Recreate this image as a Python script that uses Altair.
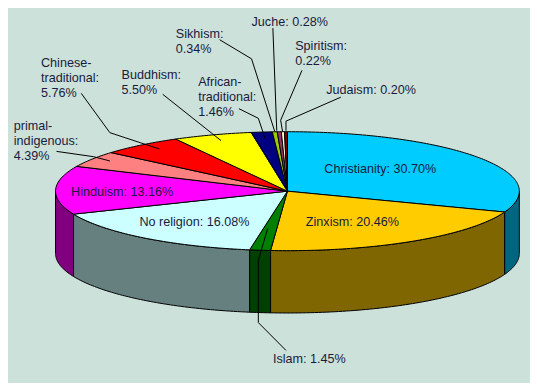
import math
import altair as alt
import pandas as pd

# ---- data ----
religions = ["Christianity", "Zinxism", "Islam", "No religion", "Hinduism",
             "primal-indigenous", "Chinese-traditional", "Buddhism",
             "African-traditional", "Sikhism", "Juche", "Spiritism", "Judaism"]
shares = [30.70, 20.46, 1.45, 16.08, 13.16, 4.39, 5.76, 5.50, 1.46, 0.34, 0.28, 0.22, 0.20]
top_colors = ["#00CCFF", "#FFCC00", "#008000", "#CCFFFF", "#FF00FF", "#FF8080",
              "#FF0000", "#FFFF00", "#000080", "#99CC00", "#993366", "#FFFFCC", "#800000"]
side_colors = ["#006680", "#806600", "#004000", "#668080", "#800080", "#804040",
               "#800000", "#808000", "#000040", "#4D6600", "#4D1A33", "#808066", "#400000"]
# how each label is wrapped: 1 = one line, 2 = break after ':', 3 = break after '-' and ':'
label_wrap = [1, 1, 1, 1, 1, 3, 3, 2, 3, 2, 1, 2, 1]

# ---- layout (reference pixel space 538 x 391) ----
CX, CY, RX, RY, DEPTH = 288.0, 191.0, 239.0, 62.0, 65.0
label_pos = [(326, 168), (307, 223), (273, 366), (135.5, 223), (65, 192),
             (6, 123), (34, 57), (117, 70), (196, 77), (173, 27),
             (251, 15), (296, 40), (328, 85)]
leaders = [None, None,
           [(267.6, 230), (258, 263), (258, 328), (286.5, 357)],
           None, None,
           [(50, 149.5), (88, 155), (105, 159.5)],
           [(75.5, 89), (105, 130), (156, 147)],
           [(159.5, 90), (219.6, 138.3)],
           [(238, 105), (258, 115), (265, 136)],
           [(218, 33), (251, 53), (275, 129)],
           [(273, 21), (277, 128)],
           [(303, 65), (281, 117), (283, 129)],
           [(343, 93), (286.5, 118), (286.5, 128)]]
LINE_H = 15.7


def rim(theta, dy=0.0):
    t = math.radians(theta)
    return CX + RX * math.sin(t), CY - RY * math.cos(t) + dy


def arc(a, b):
    n = max(3, int(math.ceil(b - a)) + 1)
    return [a + (b - a) * i / (n - 1) for i in range(n)]


total = sum(shares)
top_rows, side_rows = [], []
start = 0.0
for i, (name, s) in enumerate(zip(religions, shares)):
    a = start
    b = start + s / total * 360.0
    start = b
    pts = [(CX, CY)] + [rim(t) for t in arc(a, b)]
    for k, (x, y) in enumerate(pts):
        top_rows.append({"pid": name, "ord": k, "x": x, "y": y, "color": top_colors[i]})
    a2, b2 = max(a, 90.0), min(b, 270.0)
    if a2 < b2:
        ts = arc(a2, b2)
        pts = [rim(t) for t in ts] + [rim(t, DEPTH) for t in reversed(ts)]
        for k, (x, y) in enumerate(pts):
            side_rows.append({"pid": name, "ord": k, "x": x, "y": y, "color": side_colors[i]})

text_rows, lead_rows = [], []
for i, (name, s) in enumerate(zip(religions, shares)):
    pct = f"{s:.2f}%"
    if label_wrap[i] == 1:
        lines = [f"{name}: {pct}"]
    elif label_wrap[i] == 2:
        lines = [f"{name}:", pct]
    else:
        h = name.index("-")
        lines = [name[:h + 1], name[h + 1:] + ":", pct]
    lx, ly = label_pos[i]
    for j, ln in enumerate(lines):
        text_rows.append({"x": lx, "y": ly + j * LINE_H, "text": ln})
    if leaders[i]:
        for k, (x, y) in enumerate(leaders[i]):
            lead_rows.append({"pid": name, "ord": k, "x": x, "y": y})

W, H = 522, 375
xs = alt.Scale(domain=[0, 538], nice=False, zero=False)
ys = alt.Scale(domain=[391, 0], nice=False, zero=False)
X = alt.X("x:Q", scale=xs, axis=None)
Y = alt.Y("y:Q", scale=ys, axis=None)


def poly_layer(rows):
    return alt.Chart(pd.DataFrame(rows)).mark_line(
        interpolate="linear-closed", stroke="black", strokeWidth=1, strokeJoin="miter"
    ).encode(
        x=X, y=Y,
        fill=alt.Fill("color:N", scale=None, legend=None),
        detail="pid:N",
        order="ord:Q",
    )


sides = poly_layer(side_rows)
tops = poly_layer(top_rows)
lead = alt.Chart(pd.DataFrame(lead_rows)).mark_line(
    stroke="black", strokeWidth=1
).encode(x=X, y=Y, detail="pid:N", order="ord:Q")
texts = alt.Chart(pd.DataFrame(text_rows)).mark_text(
    align="left", baseline="middle", font="Liberation Sans", fontSize=12.6, color="#1A1A40"
).encode(x=X, y=Y, text="text:N")

chart = alt.layer(sides, tops, lead, texts).properties(
    width=W, height=H, padding=0, autosize="none", background="#CCE1D9"
).configure_view(stroke=None)

chart.save("out.html", embed_options={"renderer": "svg", "actions": False})
